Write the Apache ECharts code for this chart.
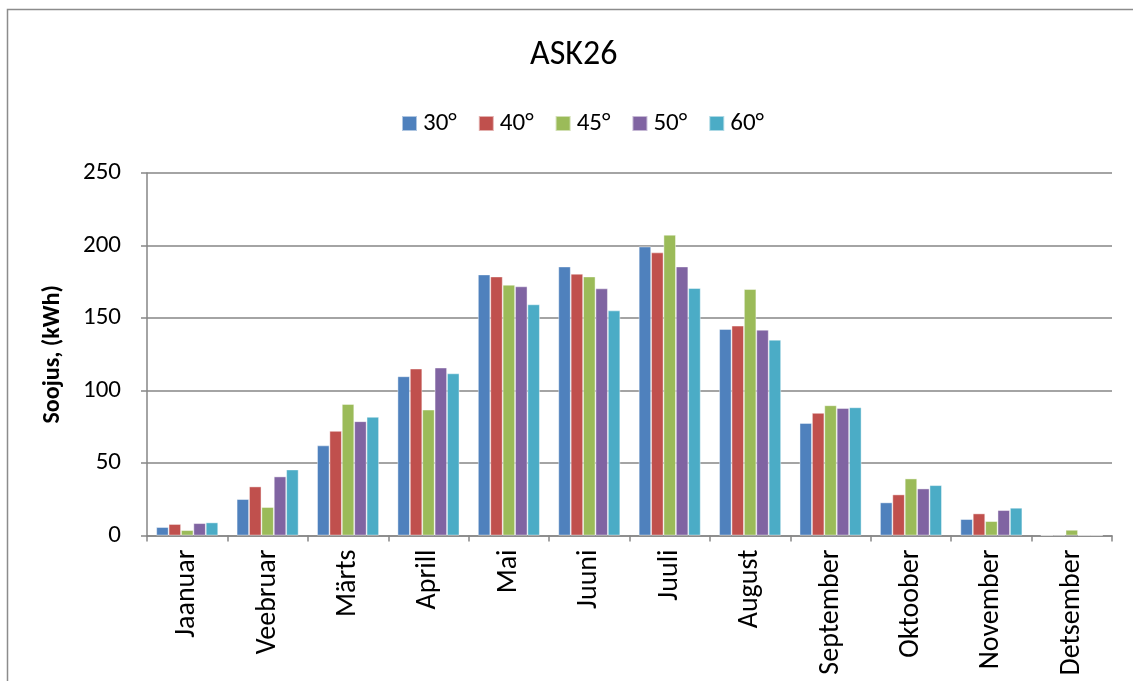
<!DOCTYPE html>
<html>
<head>
<meta charset="utf-8">
<script src="https://cdn.jsdelivr.net/npm/echarts@6/dist/echarts.min.js"></script>
<style>
  html, body { margin: 0; padding: 0; background: #fff; }
  #chart { width: 1133px; height: 681px; }
</style>
</head>
<body>
<div id="chart"></div>
<script>
// Monthly heat yield for collector tilt angles
const months = ['Jaanuar', 'Veebruar', 'Märts', 'Aprill', 'Mai', 'Juuni', 'Juuli', 'August', 'September', 'Oktoober', 'November', 'Detsember'];
const seriesNames = ['30°', '40°', '45°', '50°', '60°'];
const tilt30 = [5.8, 25.1, 62.1, 109.8, 180.0, 185.5, 199.3, 142.4, 77.6, 22.8, 11.3, 0];
const tilt40 = [7.9, 33.8, 72.1, 115.1, 178.6, 180.5, 195.2, 144.7, 84.5, 28.3, 15.2, 0.4];
const tilt45 = [3.7, 19.6, 90.7, 86.8, 172.9, 178.6, 207.4, 169.9, 89.8, 39.3, 9.9, 3.9];
const tilt50 = [8.5, 40.7, 78.8, 115.8, 171.8, 170.4, 185.5, 141.9, 87.9, 32.4, 17.5, 0];
const tilt60 = [9.0, 45.5, 81.8, 111.8, 159.4, 155.2, 170.6, 135.0, 88.4, 34.7, 19.1, 0];
const yTicks = [0, 50, 100, 150, 200, 250];
const colors = ['#4F81BD', '#C0504D', '#9BBB59', '#8064A2', '#4BACC6'];

const FONT = 'Carlito, Lato, "Open Sans", sans-serif';
const allValues = [tilt30, tilt40, tilt45, tilt50, tilt60];

const chart = echarts.init(document.getElementById('chart'), null, { renderer: 'canvas' });
chart.setOption({
  animation: false,
  color: colors,
  textStyle: { fontFamily: FONT },
  graphic: [{
    type: 'rect',
    shape: { x: 7.5, y: 9.5, width: 1200, height: 800 },
    style: { fill: 'none', stroke: '#8c8c8c', lineWidth: 1.5 },
    silent: true
  }],
  title: {
    text: 'ASK26',
    left: 525,
    top: 33,
    textStyle: { fontFamily: FONT, fontSize: 34, fontWeight: 'normal', color: '#000' }
  },
  legend: {
    data: seriesNames,
    top: 106,
    left: 396,
    itemWidth: 15,
    itemHeight: 15,
    itemGap: 21,
    icon: 'rect',
    textStyle: { fontFamily: FONT, fontSize: 25, color: '#000', padding: [0, 0, 0, 1] }
  },
  grid: { left: 147, right: 21, top: 173, bottom: 145.5, containLabel: false },
  xAxis: {
    type: 'category',
    data: months,
    axisLine: { lineStyle: { color: '#868686', width: 1.5 } },
    axisTick: { show: true, alignWithLabel: false, length: 6, lineStyle: { color: '#868686', width: 1.5 } },
    axisLabel: {
      rotate: 90, interval: 0, margin: 14,
      fontFamily: FONT, fontSize: 28, color: '#000'
    }
  },
  yAxis: {
    type: 'value',
    min: yTicks[0],
    max: yTicks[yTicks.length - 1],
    interval: 50,
    name: 'Soojus, (kWh)',
    nameLocation: 'middle',
    nameGap: 82,
    nameRotate: 90,
    nameTextStyle: { fontFamily: FONT, fontSize: 24, fontWeight: 'bold', color: '#000' },
    axisLine: { show: true, lineStyle: { color: '#868686', width: 1.5 } },
    axisTick: { show: true, length: 6, lineStyle: { color: '#868686', width: 1.5 } },
    axisLabel: { margin: 26, fontFamily: FONT, fontSize: 25, color: '#000' },
    splitLine: { lineStyle: { color: '#868686', width: 1.5 } }
  },
  series: seriesNames.map((name, i) => ({
    name,
    type: 'bar',
    data: allValues[i],
    barGap: '0%',
    barCategoryGap: '23%',
    itemStyle: { borderColor: 'rgba(255,255,255,0.55)', borderWidth: 0.8 }
  }))
});
</script>
</body>
</html>
